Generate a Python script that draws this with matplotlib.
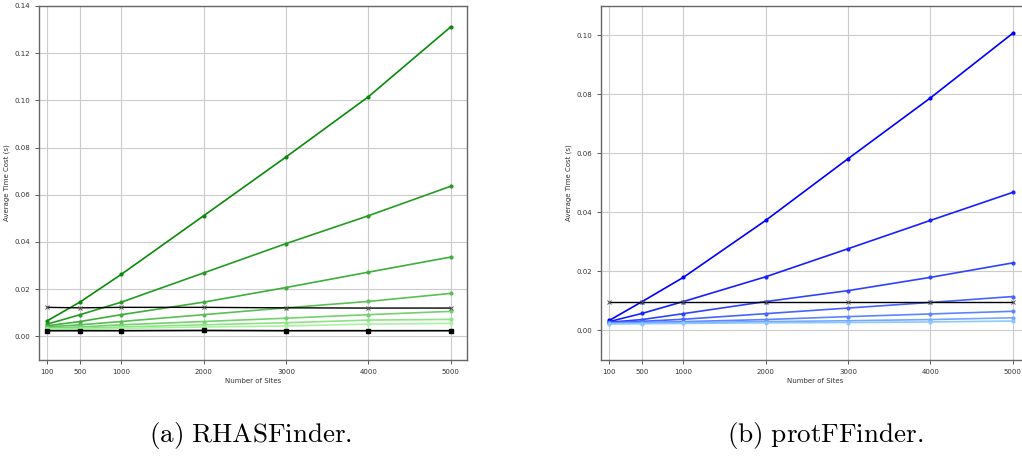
import numpy as np
import matplotlib
matplotlib.use("Agg")
from matplotlib import pyplot as plt
from matplotlib.colors import LinearSegmentedColormap

plt.rcParams['mathtext.fontset'] = 'cm'

sites = [100, 500, 1000, 2000, 3000, 4000, 5000]

# RHASFinder, dark to light green
rhas = [
    [0.0066, 0.0146, 0.0263, 0.0511, 0.0760, 0.1015, 0.1311],
    [0.0052, 0.0092, 0.0145, 0.0269, 0.0393, 0.0511, 0.0636],
    [0.0045, 0.0063, 0.0092, 0.0145, 0.0207, 0.0272, 0.0336],
    [0.0040, 0.0049, 0.0063, 0.0092, 0.0121, 0.0148, 0.0182],
    [0.0036, 0.0040, 0.0049, 0.0063, 0.0077, 0.0092, 0.0106],
    [0.0033, 0.0034, 0.0040, 0.0049, 0.0058, 0.0069, 0.0072],
    [0.0031, 0.0030, 0.0034, 0.0040, 0.0044, 0.0052, 0.0055],
]
rhas_base_x = [0.0123, 0.0121, 0.0123, 0.0123, 0.0121, 0.0120, 0.0120]
rhas_base_sq = [0.0024, 0.0024, 0.0024, 0.0025, 0.0024, 0.0024, 0.0024]

# protFFinder, dark to light blue
prot = [
    [0.0034, 0.0098, 0.0180, 0.0373, 0.0582, 0.0788, 0.1007],
    [0.0030, 0.0058, 0.0098, 0.0182, 0.0277, 0.0373, 0.0468],
    [0.0028, 0.0037, 0.0057, 0.0098, 0.0135, 0.0180, 0.0229],
    [0.0026, 0.0031, 0.0038, 0.0057, 0.0076, 0.0095, 0.0115],
    [0.0025, 0.0027, 0.0030, 0.0037, 0.0047, 0.0056, 0.0065],
    [0.0024, 0.0025, 0.0027, 0.0030, 0.0033, 0.0037, 0.0043],
    [0.0022, 0.0023, 0.0024, 0.0026, 0.0027, 0.0029, 0.0032],
]
prot_base_x = [0.0098, 0.0098, 0.0098, 0.0098, 0.0098, 0.0098, 0.0098]

greens = LinearSegmentedColormap.from_list('g', ['#0a8a0a', '#a8f5a0'])
blues = LinearSegmentedColormap.from_list('b', ['#0000ff', '#8cc8ff'])

fig = plt.figure(figsize=(10.22, 4.57), dpi=100)
ax1 = fig.add_axes([0.0382, 0.2123, 0.4188, 0.7746])
ax2 = fig.add_axes([0.5881, 0.2123, 0.4188, 0.7746])


def style(ax, ylim, yticks):
    ax.set_xlim(0, 5200)
    ax.set_ylim(*ylim)
    ax.set_xticks(sites)
    ax.set_yticks(yticks)
    ax.set_yticklabels(['%.2f' % t for t in yticks])
    ax.grid(True, color='#cccccc', linewidth=0.8)
    ax.set_axisbelow(True)
    ax.tick_params(labelsize=5, length=3, width=0.6, colors='#444444', labelcolor='#333333')
    for s in ax.spines.values():
        s.set_color('#666666')
        s.set_linewidth(1.0)
    ax.set_xlabel('Number of Sites', fontsize=5, color='#333333', labelpad=2)
    ax.set_ylabel('Average Time Cost (s)', fontsize=5, color='#333333', labelpad=3)


n = len(rhas)
for i, ys in enumerate(rhas):
    c = greens(i / (n - 1))
    ax1.plot(sites, ys, color=c, lw=1.2, marker='o', ms=2.0, zorder=3)
ax1.plot(sites, rhas_base_x, color='black', lw=1.0, marker='x', ms=3.5, mew=0.7,
         mec='#555555', zorder=4)
ax1.plot(sites, rhas_base_sq, color='black', lw=1.2, marker='s', ms=2.2, zorder=4)
style(ax1, (-0.01, 0.14), np.arange(0, 0.141, 0.02))

for i, ys in enumerate(prot):
    c = blues(i / (n - 1))
    ax2.plot(sites, ys, color=c, lw=1.2, marker='o', ms=2.0, zorder=3)
ax2.plot(sites, prot_base_x, color='black', lw=1.0, marker='x', ms=3.5, mew=0.7,
         mec='#555555', zorder=4)
style(ax2, (-0.01, 0.11), np.arange(0, 0.101, 0.02))

fig.text(0.245, 0.047, r'$\mathrm{(a)\ RHASFinder.}$', fontsize=19.5, ha='center', va='center')
fig.text(0.807, 0.047, r'$\mathrm{(b)\ protFFinder.}$', fontsize=19.5, ha='center', va='center')

plt.savefig('out.png', dpi=100)
